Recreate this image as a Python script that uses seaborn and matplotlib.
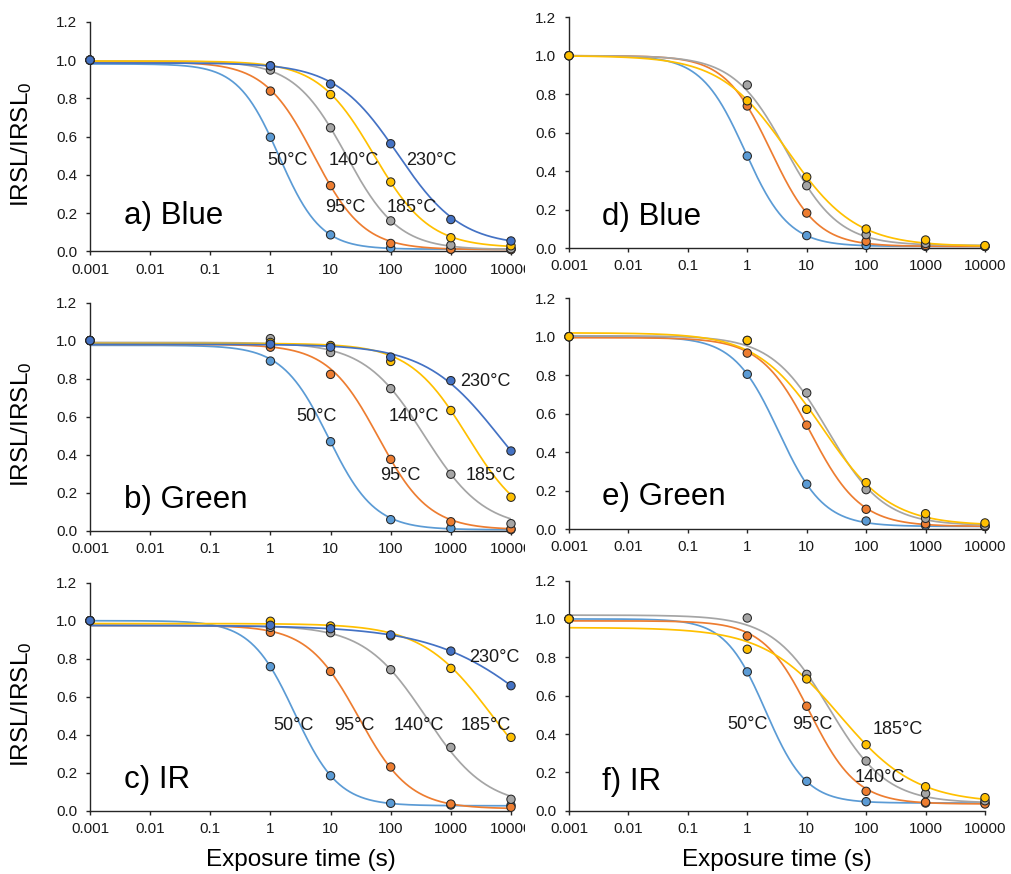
import numpy as np
import pandas as pd
import matplotlib
matplotlib.use("Agg")
import matplotlib.pyplot as plt
from matplotlib.patches import Rectangle
from matplotlib.ticker import NullLocator
import seaborn as sns

# ---------------------------------------------------------------- data
times = [0.001, 1, 10, 100, 1000, 10000]
tick_times = [0.001, 0.01, 0.1, 1, 10, 100, 1000, 10000]
tick_labels = ["0.001", "0.01", "0.1", "1", "10", "100", "1000", "10000"]
y_ticks = [0.0, 0.2, 0.4, 0.6, 0.8, 1.0, 1.2]
y_labels = ["0.0", "0.2", "0.4", "0.6", "0.8", "1.0", "1.2"]
temps = ["50°C", "95°C", "140°C", "185°C", "230°C"]
temp_colors = ["#5B9BD5", "#ED7D31", "#A5A5A5", "#FFC000", "#4472C4"]

# normalised IRSL after bleaching, one row per preheat temperature
blue_a = [
    [1.0, 0.597, 0.087, 0.018, 0.012, 0.012],
    [1.0, 0.838, 0.344, 0.042, 0.012, 0.010],
    [1.0, 0.948, 0.646, 0.160, 0.033, 0.015],
    [1.0, 0.970, 0.820, 0.363, 0.072, 0.030],
    [1.0, 0.970, 0.875, 0.563, 0.167, 0.055],
]
green_b = [
    [1.0, 0.892, 0.468, 0.058, 0.012, 0.006],
    [1.0, 0.965, 0.822, 0.375, 0.047, 0.009],
    [1.0, 1.010, 0.937, 0.747, 0.297, 0.037],
    [1.0, 0.990, 0.974, 0.890, 0.632, 0.176],
    [1.0, 0.981, 0.965, 0.913, 0.789, 0.419],
]
ir_c = [
    [1.0, 0.758, 0.184, 0.039, 0.030, 0.028],
    [1.0, 0.939, 0.733, 0.230, 0.035, 0.018],
    [1.0, 0.965, 0.937, 0.742, 0.333, 0.060],
    [1.0, 0.997, 0.972, 0.920, 0.749, 0.386],
    [1.0, 0.976, 0.958, 0.925, 0.840, 0.658],
]
blue_d = [
    [1.0, 0.479, 0.066, 0.015, 0.010, 0.010],
    [1.0, 0.739, 0.183, 0.036, 0.015, 0.010],
    [1.0, 0.848, 0.325, 0.071, 0.025, 0.012],
    [1.0, 0.766, 0.370, 0.100, 0.043, 0.014],
]
green_e = [
    [1.0, 0.805, 0.234, 0.043, 0.020, 0.015],
    [1.0, 0.915, 0.541, 0.104, 0.028, 0.015],
    [1.0, 0.980, 0.708, 0.206, 0.057, 0.019],
    [1.0, 0.981, 0.623, 0.242, 0.081, 0.033],
]
ir_f = [
    [1.0, 0.724, 0.153, 0.047, 0.040, 0.040],
    [1.0, 0.911, 0.545, 0.101, 0.044, 0.035],
    [1.0, 1.005, 0.711, 0.259, 0.089, 0.052],
    [1.0, 0.842, 0.687, 0.344, 0.125, 0.068],
]

# fitted decay curves: (plateau, floor, t_half, slope)
fit_a = [(0.98, 0.012, 1.40, 1.26), (0.99, 0.010, 5.3, 1.05),
         (0.995, 0.010, 18.2, 1.00), (0.995, 0.020, 52.0, 0.94),
         (0.985, 0.030, 132.0, 0.83)]
fit_b = [(0.975, 0.005, 9.2, 1.13), (0.98, 0.005, 62.0, 1.03),
         (0.99, 0.010, 363.0, 0.87), (0.985, 0.010, 1880.0, 0.90),
         (0.98, 0.000, 6600.0, 0.70)]
fit_c = [(1.0, 0.026, 2.53, 1.19), (0.975, 0.010, 29.2, 1.02),
         (0.975, 0.020, 378.0, 0.85), (0.985, 0.020, 4800.0, 0.75),
         (0.975, 0.000, 46600.0, 0.475)]
fit_d = [(1.0, 0.010, 0.914, 1.18), (1.0, 0.010, 2.50, 1.12),
         (1.0, 0.015, 4.52, 0.98), (1.0, 0.010, 4.79, 0.76)]
fit_e = [(1.0, 0.015, 3.37, 1.15), (0.995, 0.015, 11.5, 1.03),
         (1.005, 0.020, 22.6, 0.92), (1.02, 0.020, 19.0, 0.78)]
fit_f = [(1.0, 0.040, 2.04, 1.27), (0.99, 0.035, 11.3, 1.10),
         (1.02, 0.040, 24.3, 0.90), (0.955, 0.040, 35.8, 0.68)]

# ---------------------------------------------------------------- style
sns.set_style("ticks")
plt.rcParams["font.family"] = ["Liberation Sans", "DejaVu Sans"]
plt.rcParams["mathtext.default"] = "regular"

W, H = 1012, 874
fig = plt.figure(figsize=(W / 100, H / 100), dpi=100)
fig.patch.set_facecolor("white")


def frame(x0, x1, y_top, y_bottom):
    return [x0 / W, 1 - y_bottom / H, (x1 - x0) / W, (y_bottom - y_top) / H]


panels = [
    ("a) Blue", blue_a, fit_a, frame(90, 511, 21.8, 251.5), 0,
     [("50°C", 0.292, 0.475), ("140°C", 1.381, 0.475), ("230°C", 2.678, 0.475),
      ("95°C", 1.240, 0.231), ("185°C", 2.354, 0.231)], 0.184),
    ("b) Green", green_b, fit_b, frame(90, 511, 302.5, 530.7), 0,
     [("50°C", 0.763, 0.598), ("140°C", 2.376, 0.598), ("230°C", 3.581, 0.782),
      ("95°C", 2.161, 0.290), ("185°C", 3.660, 0.290)], 0.162),
    ("c) IR", ir_c, fit_c, frame(90, 511, 582.7, 810.7), 0,
     [("50°C", 0.387, 0.451), ("95°C", 1.398, 0.451), ("140°C", 2.474, 0.451),
      ("185°C", 3.577, 0.451), ("230°C", 3.721, 0.807)], 0.162),
    ("d) Blue", blue_d, fit_d, frame(569, 985, 17.2, 248.3), 1, [], 0.164),
    ("e) Green", green_e, fit_e, frame(569, 985, 298.2, 529.3), 1, [], 0.169),
    ("f) IR", ir_f, fit_f, frame(569, 985, 580.6, 810.7), 1,
     [("50°C", 0.000, 0.451), ("95°C", 1.092, 0.451), ("185°C", 2.529, 0.425),
      ("140°C", 2.227, 0.174)], 0.151),
]

grid = np.logspace(-3, 4, 500)
axis_color = "#262626"

for title, pts, fits, rect, col, labels, title_y in panels:
    ax = fig.add_axes(rect, zorder=col)
    ax.set_facecolor("white")
    n = len(pts)
    names = temps[:n]
    pal = dict(zip(names, temp_colors[:n]))

    curve_rows = []
    for name, (top, floor, t_half, slope) in zip(names, fits):
        yc = floor + (top - floor) / (1.0 + (grid / t_half) ** slope)
        curve_rows.append(pd.DataFrame({"time": grid, "value": yc, "temp": name}))
    curve_df = pd.concat(curve_rows, ignore_index=True)

    point_rows = []
    for name, vals in zip(names, pts):
        point_rows.append(pd.DataFrame({"time": times, "value": vals, "temp": name}))
    point_df = pd.concat(point_rows, ignore_index=True)

    ax.set_xscale("log")
    sns.lineplot(data=curve_df, x="time", y="value", hue="temp", hue_order=names,
                 palette=pal, estimator=None, sort=False, linewidth=1.25,
                 legend=False, ax=ax)
    sns.scatterplot(data=point_df, x="time", y="value", hue="temp", hue_order=names,
                    palette=pal, s=36, edgecolor=axis_color, linewidth=0.75,
                    legend=False, ax=ax, zorder=3)
    for coll in ax.collections:
        coll.set_clip_on(False)

    ax.set_xlim(0.001, 10000)
    ax.set_ylim(0, 1.2)
    ax.xaxis.set_minor_locator(NullLocator())
    ax.set_xticks(tick_times)
    ax.set_xticklabels(tick_labels)
    ax.set_yticks(y_ticks)
    ax.set_yticklabels(y_labels)
    ax.set_xlabel("")
    ax.set_ylabel("")
    ax.tick_params(axis="both", direction="out", length=3, width=1.0,
                   color=axis_color, labelsize=11, labelcolor="#1a1a1a")
    ax.tick_params(axis="y", pad=6)
    ax.tick_params(axis="x", pad=5)
    for side in ("top", "right"):
        ax.spines[side].set_visible(False)
    for side in ("left", "bottom"):
        ax.spines[side].set_color(axis_color)
        ax.spines[side].set_linewidth(1.0)

    ax.text(10 ** (-2.435 if col == 0 else -2.437), title_y, title, fontsize=22.5,
            ha="left", va="center", color="black")
    for text, lx, ly in labels:
        ax.text(10 ** lx, ly, text, fontsize=13, ha="center", va="center",
                color="#1a1a1a")

# right-hand column sits over the overflow of the left-hand charts
fig.patches.append(Rectangle((525 / W, 0), 1, 1, transform=fig.transFigure,
                             facecolor="white", edgecolor="none", zorder=0.5))

for yc in (144, 424, 704):
    fig.text(22 / W, 1 - yc / H, "IRSL/IRSL$_0$", rotation=90, fontsize=17.5,
             ha="center", va="center", color="black")
for xc in (300.5, 777):
    fig.text(xc / W, 1 - 860 / H, "Exposure time (s)", fontsize=17.5,
             ha="center", va="center", color="black")

fig.savefig("out.png", dpi=100, facecolor="white")
